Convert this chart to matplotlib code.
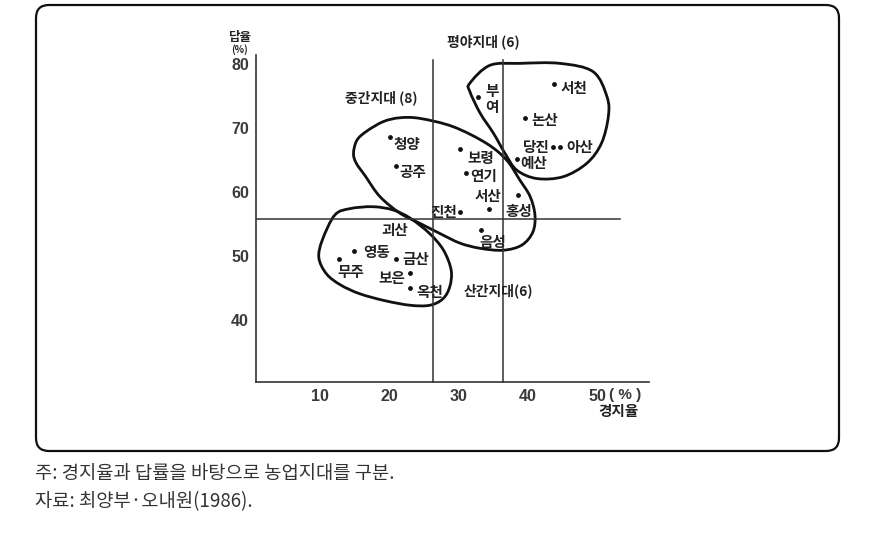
import matplotlib
matplotlib.use('Agg')
import matplotlib.pyplot as plt
import numpy as np
from matplotlib.path import Path
from matplotlib.patches import PathPatch, FancyBboxPatch

plt.rcParams['font.family'] = ['Noto Sans CJK KR', 'DejaVu Sans']

# 군별 경지율(%) / 답율(%)
counties = ['서천', '부여', '논산', '당진', '아산', '예산', '보령', '연기', '서산', '홍성',
            '진천', '음성', '영동', '무주', '금산', '보은', '옥천', '청양', '공주']
land_ratio = [43.75, 32.8, 39.5, 43.6, 44.6, 38.4, 30.2, 31.0, 34.4, 38.6,
              30.2, 33.2, 14.9, 12.7, 20.9, 23.0, 23.0, 20.1, 20.9]
paddy_ratio = [76.9, 74.8, 71.6, 67.0, 67.0, 65.2, 66.7, 63.0, 57.3, 59.5,
               56.9, 54.1, 50.8, 49.6, 49.5, 47.3, 45.0, 68.6, 64.0]
# label offsets (pixels) from each dot
label_dx = [20, 14, 20, -17, 20, 17, 21, 18, -1, 0, -16, 12, 22, 12, 20, -19, 19, 17, 17]
label_dy = [-4, -2, -2, 0, 0, -4, -9, -3, 13, -16, 0, -12, -1, -13, 0, -5, -4, -7, -6]

# 괴산 (no dot in the source)
goesan_xy = (20.8, 54.1)

# dividing lines
h_split = 55.8
v_split = [26.3, 36.4]

# hand drawn zone outlines (data units)
plain_x = [31.6, 34.5, 38.8, 44.6, 49.4, 51.4, 51.6, 50.6, 48.5, 45.1, 41.3, 38.4, 36.7, 35.0, 33.1, 31.6]
plain_y = [77.0, 79.8, 80.1, 80.1, 78.8, 74.9, 71.8, 67.6, 64.5, 62.4, 62.1, 63.4, 66.0, 69.2, 72.3, 75.7]
middle_x = [14.8, 15.3, 16.7, 19.1, 21.5, 24.4, 29.2, 34.0, 36.9, 38.8, 40.3, 41.0,
            40.7, 39.1, 36.4, 33.1, 30.2, 27.3, 24.4, 21.5, 18.6, 16.5, 15.2]
middle_y = [66.05, 68.1, 69.5, 71.0, 71.6, 71.5, 70.2, 67.6, 65.0, 61.9, 59.3, 56.4,
            53.75, 51.7, 50.9, 51.2, 52.0, 53.5, 55.1, 56.7, 59.3, 62.5, 64.5]
mount_x = [12.1, 14.3, 17.6, 20.5, 23.0, 25.8, 27.8, 28.9, 28.7, 27.7, 25.8, 23.0,
           19.4, 15.7, 12.9, 10.9, 9.8, 10.3]
mount_y = [56.4, 57.4, 57.7, 57.2, 55.9, 53.5, 50.9, 47.8, 45.2, 43.3, 42.3, 42.3,
           43.0, 44.1, 45.5, 47.2, 49.7, 52.5]

zone_names = ['평야지대 (6)', '중간지대 (8)', '산간지대(6)']
zone_x = [33.6, 18.8, 35.7]
zone_y = [83.4, 74.7, 44.5]

x_ticks = [10, 20, 30, 40, 50]
y_ticks = [40, 50, 60, 70, 80]


def closed_smooth_path(xs, ys):
    p = np.column_stack([xs, ys])
    n = len(p)
    verts = [p[0]]
    codes = [Path.MOVETO]
    for i in range(n):
        p0, p1, p2, p3 = p[i - 1], p[i], p[(i + 1) % n], p[(i + 2) % n]
        verts += [p1 + (p2 - p0) / 6, p2 - (p3 - p1) / 6, p2]
        codes += [Path.CURVE4] * 3
    return Path(verts, codes)


fig = plt.figure(figsize=(8.74, 5.56), dpi=100)
ax = fig.add_axes([256 / 874, 1 - 382 / 556, (649 - 256) / 874, (382 - 55) / 556])

frame = FancyBboxPatch((0.36, 1.05), 8.03, 4.46, boxstyle='round,pad=0,rounding_size=0.13',
                       transform=fig.dpi_scale_trans, fill=False, lw=1.6, ec='#111111')
fig.patches.append(frame)

ax.set_xlim(0.72, 57.47)
ax.set_ylim(30.31, 81.41)
for s in ['top', 'right']:
    ax.spines[s].set_visible(False)
for s in ['left', 'bottom']:
    ax.spines[s].set_linewidth(1.2)
    ax.spines[s].set_color('#333333')

ax.set_xticks(x_ticks, [str(t) for t in x_ticks])
ax.set_yticks(y_ticks, [str(t) for t in y_ticks])
ax.tick_params(length=0, labelsize=11.5, labelcolor='#3a3a3a')
ax.tick_params(axis='y', pad=5)
ax.tick_params(axis='x', pad=5)
for lab in ax.get_xticklabels() + ax.get_yticklabels():
    lab.set_family('Liberation Sans')
    lab.set_fontweight('bold')

ax.axhline(h_split, xmin=0, xmax=(53.3 - 0.72) / (57.47 - 0.72), color='#333333', lw=1.1)
for v in v_split:
    ax.plot([v, v], [30.31, 80.6], color='#333333', lw=1.1, clip_on=False)

for xs, ys in [(plain_x, plain_y), (middle_x, middle_y), (mount_x, mount_y)]:
    ax.add_patch(PathPatch(closed_smooth_path(xs, ys), fill=False, lw=2.0, ec='#111111'))

ax.scatter(land_ratio, paddy_ratio, s=6, color='#111111', zorder=3)

lab_kw = dict(fontsize=10.5, fontweight='bold', color='#222222')
for name, x, y, dx, dy in zip(counties, land_ratio, paddy_ratio, label_dx, label_dy):
    txt = '부\n여' if name == '부여' else name
    ax.annotate(txt, (x, y), xytext=(dx, dy), textcoords='offset pixels',
                ha='center', va='center', linespacing=1.0, **lab_kw)
ax.text(goesan_xy[0], goesan_xy[1], '괴산', ha='center', va='center', **lab_kw)

for name, x, y in zip(zone_names, zone_x, zone_y):
    ax.text(x, y, name, ha='center', va='center', fontsize=10, fontweight='bold',
            color='#222222', clip_on=False)

# axis titles
ax.text(-1.7, 84.1, '답율', ha='center', va='center', fontsize=9, fontweight='bold', color='#222222', clip_on=False)
ax.text(-1.7, 82.2, '(%)', ha='center', va='center', fontsize=7, fontweight='bold', color='#222222', clip_on=False)
ax.text(54.0, 28.3, '( % )', ha='center', va='center', fontsize=11, fontweight='bold',
        color='#3a3a3a', family='Liberation Sans', clip_on=False)
ax.text(53.0, 25.8, '경지율', ha='center', va='center', fontsize=10.5, fontweight='bold', color='#222222', clip_on=False)

fig.text(35 / 874, 1 - 473 / 556, '주: 경지율과 답률을 바탕으로 농업지대를 구분.', ha='left', va='center',
         fontsize=13.5, color='#333333')
fig.text(35 / 874, 1 - 502 / 556, '자료: 최양부·오내원(1986).', ha='left', va='center',
         fontsize=13.5, color='#333333')

fig.savefig('out.png', dpi=100)
